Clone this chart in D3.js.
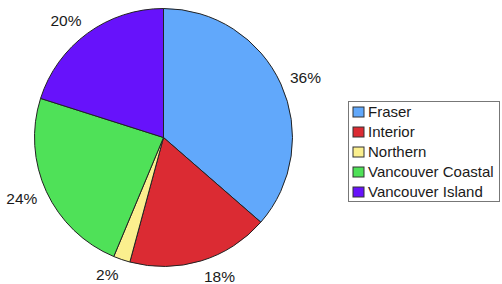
<!DOCTYPE html>
<html>
<head>
<meta charset="utf-8">
<script src="https://cdn.jsdelivr.net/npm/d3@7"></script>
<style>
  body { margin: 0; background: #ffffff; }
  text { font-family: "Liberation Sans", Arial, sans-serif; fill: #1a1a1a; }
</style>
</head>
<body>
<div id="chart"></div>
<script>
// regions and their share
var regions = ["Fraser", "Interior", "Northern", "Vancouver Coastal", "Vancouver Island"];
var shares = [36.4, 17.8, 2.1, 23.6, 20.1];
var colours = ["#61a8fb", "#db2b33", "#fbef8e", "#4fe158", "#6712fb"];

var width = 502, height = 284;
var cx = 163.5, cy = 137.5, radius = 129;

var data = regions.map(function(name, i) {
  return {name: name, value: shares[i]};
});

var svg = d3.select("#chart")
  .append("svg")
    .attr("width", width)
    .attr("height", height);

var colour = d3.scaleOrdinal()
  .domain(regions)
  .range(colours);

var pie = d3.pie()
  .sort(null)
  .value(function(d) { return d.value; });

var arc = d3.arc()
  .innerRadius(0)
  .outerRadius(radius);

var arcs = pie(data);
var total = d3.sum(shares);

var g = svg.append("g")
  .attr("transform", "translate(" + cx + "," + cy + ")");

g.selectAll("path")
  .data(arcs)
  .enter()
  .append("path")
    .attr("d", arc)
    .attr("fill", function(d) { return colour(d.data.name); })
    .attr("stroke", "#222")
    .attr("stroke-width", 1)
    .attr("stroke-linejoin", "round");

// percent labels outside the pie
g.selectAll("text.pct")
  .data(arcs)
  .enter()
  .append("text")
    .attr("class", "pct")
    .attr("x", function(d) {
      var a = (d.startAngle + d.endAngle) / 2;
      return (radius + 10) * Math.sin(a);
    })
    .attr("y", function(d) {
      var a = (d.startAngle + d.endAngle) / 2;
      return -(radius + 16) * Math.cos(a);
    })
    .attr("dy", "0.36em")
    .attr("text-anchor", function(d) {
      var a = (d.startAngle + d.endAngle) / 2;
      return a < Math.PI ? "start" : "end";
    })
    .style("font-size", "15.5px")
    .text(function(d) { return Math.round(d.data.value / total * 100) + "%"; });

// legend
var legend = svg.append("g")
  .attr("transform", "translate(348.5,101.5)");

legend.append("rect")
  .attr("width", 151)
  .attr("height", 100)
  .attr("fill", "#fff")
  .attr("stroke", "#777")
  .attr("stroke-width", 1);

var rowY = d3.scalePoint()
  .domain(regions)
  .range([10.5, 90.5]);

var item = legend.selectAll("g.item")
  .data(regions)
  .enter()
  .append("g")
    .attr("class", "item")
    .attr("transform", function(d) { return "translate(0," + rowY(d) + ")"; });

item.append("rect")
  .attr("x", 4.5)
  .attr("y", -5)
  .attr("width", 11)
  .attr("height", 10)
  .attr("fill", function(d) { return colour(d); })
  .attr("stroke", "#333")
  .attr("stroke-width", 1);

item.append("text")
  .attr("x", 19.5)
  .attr("dy", "0.36em")
  .style("font-size", "15px")
  .text(function(d) { return d; });
</script>
</body>
</html>
